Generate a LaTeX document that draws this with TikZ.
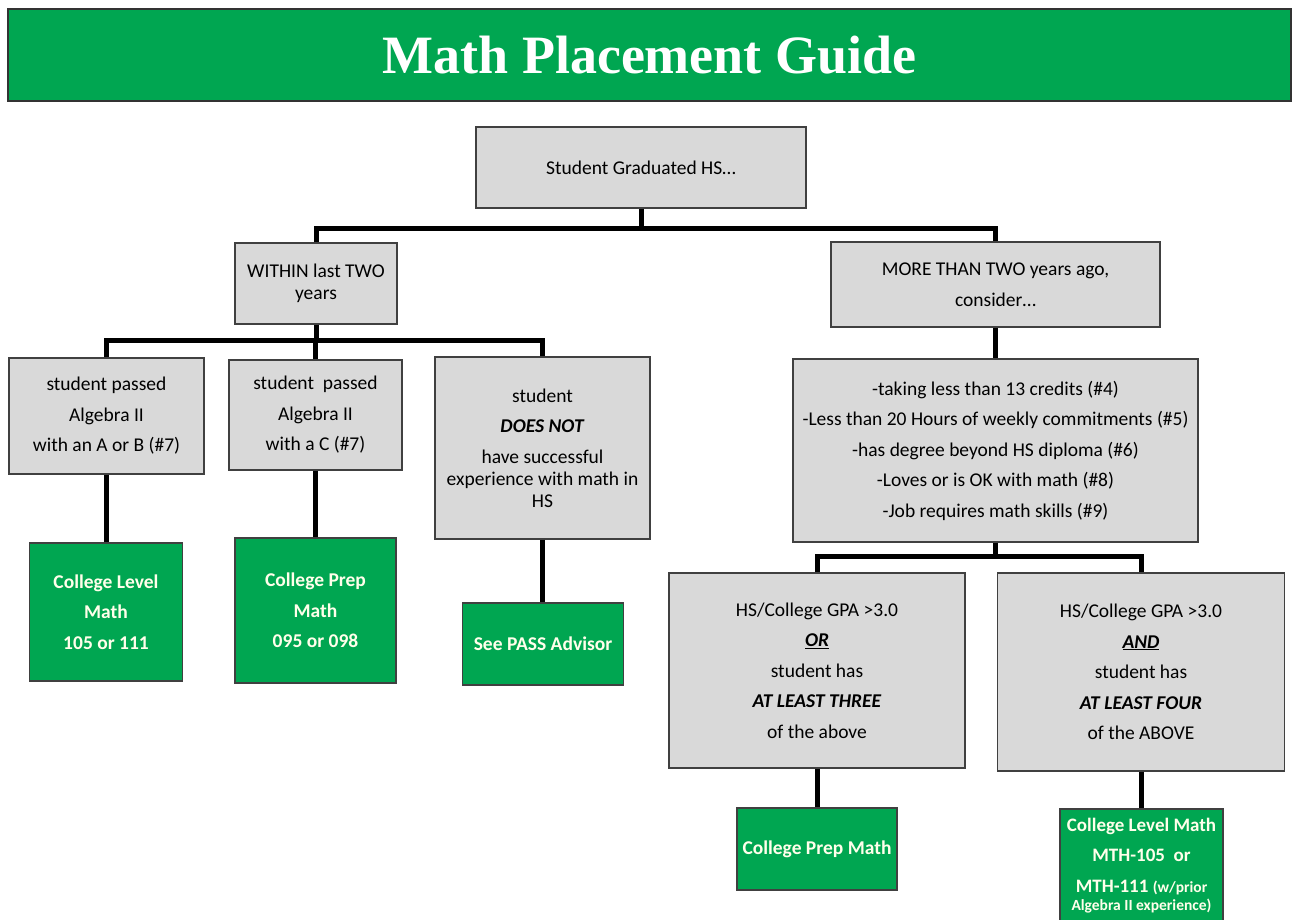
\documentclass[tikz,border=0pt]{standalone}
\usepackage{fontspec}
\setmainfont{Carlito}
\newfontfamily\titlefont{Liberation Serif}
\definecolor{hdrgreen}{HTML}{00A651}
\definecolor{boxgray}{HTML}{D9D9D9}
\definecolor{edgegray}{HTML}{404040}
\definecolor{paletext}{HTML}{FFFFEB}
\tikzset{
  gbox/.style={draw=edgegray, line width=1.4pt, fill=boxgray, align=center, inner sep=0pt,
    font=\fontsize{19.5}{30.5}\selectfont},
  rbox/.style={draw=edgegray, line width=1.4pt, fill=hdrgreen, text=paletext, align=center, inner sep=0pt,
    font=\fontsize{19.5}{30.5}\selectfont\bfseries},
  hdrbox/.style={draw=black!80, line width=2pt, fill=hdrgreen, text=white, inner sep=0pt,
    font=\titlefont\bfseries\fontsize{54}{60}\selectfont},
  link/.style={line width=5pt, draw=black}
}
\begin{document}
\begin{tikzpicture}[x=1pt,y=-1pt]
\useasboundingbox (0,0) rectangle (1292,919);
% header
\node[hdrbox, minimum width=1283, minimum height=92] (hdr) at (649.5,55) {Math Placement Guide};
% gray decision boxes
\node[gbox, minimum width=330, minimum height=81] (stud) at (641,167.5) {Student Graduated HS…};
\node[gbox, minimum width=162, minimum height=81] (within) at (316,283.5) {WITHIN last TWO\\[-8.5pt]years};
\node[gbox, minimum width=329, minimum height=85] (more) at (995.5,284.5) {MORE THAN TWO years ago,\\consider…};
\node[gbox, minimum width=195, minimum height=116] (a) at (106.5,416) {student passed\\Algebra II\\with an A or B (\#7)};
\node[gbox, minimum width=173, minimum height=110] (b) at (315.5,415) {student\ \ passed\\Algebra II\\with a C (\#7)};
\node[gbox, minimum width=215, minimum height=182] (c) at (542.5,448) {student\\\textbf{\textit{DOES NOT}}\\have successful\\[-8.5pt]experience with math in\\[-8.5pt]HS};
\node[gbox, minimum width=405, minimum height=183] (crit) at (995.5,450.5) {-taking less than 13 credits (\#4)\\-Less than 20 Hours of weekly commitments (\#5)\\-has degree beyond HS diploma (\#6)\\-Loves or is OK with math (\#8)\\-Job requires math skills (\#9)};
\node[gbox, minimum width=296, minimum height=195] (orb) at (817,670.5) {HS/College GPA >3.0\\\underline{\textbf{\textit{OR}}}\\student has\\\textbf{\textit{AT LEAST THREE}}\\of the above};
\node[gbox, minimum width=287.5, minimum height=198] (andb) at (1141,672) {HS/College GPA >3.0\\\underline{\textbf{\textit{AND}}}\\student has\\\textbf{\textit{AT LEAST FOUR}}\\of the ABOVE};
% green result boxes
\node[rbox, minimum width=152.5, minimum height=138] (g1) at (106,612) {College Level\\Math\\105 or 111};
\node[rbox, minimum width=161, minimum height=145] (g2) at (315.5,610.5) {College Prep\\Math\\095 or 098};
\node[rbox, minimum width=160.5, minimum height=82] (g3) at (543,644) {See PASS Advisor};
\node[rbox, minimum width=160, minimum height=82] (g4) at (817,849) {College Prep Math};
\node[rbox, minimum width=163, minimum height=113, font=\fontsize{19}{30.5}\selectfont\bfseries] (g5) at (1141.5,865.5)
  {College Level Math\\MTH-105\ \ or\\MTH-111 {\fontsize{15.5}{18}\selectfont(w/prior}\\[-12.5pt]{\fontsize{15.5}{18}\selectfont Algebra II experience)}};
% connectors
\draw[link] (stud.south) -- ++(0,19.5) coordinate (j1);
\draw[link] (within.north) |- (j1) -| (more.north);
\draw[link] (within.south) -- ++(0,16) coordinate (j2);
\draw[link] (a.north) |- (j2) -| (c.north);
\draw[link] (b.north) -- (b.north |- j2);
\draw[link] (a.south) -- (a.south |- g1.north);
\draw[link] (b.south) -- (b.south |- g2.north);
\draw[link] (c.south) -- (c.south |- g3.north);
\draw[link] (more.south) -- (more.south |- crit.north);
\draw[link] (crit.south) -- ++(0,14) coordinate (j3);
\draw[link] (orb.north) |- (j3) -| (andb.north);
\draw[link] (orb.south) -- (orb.south |- g4.north);
\draw[link] (andb.south) -- (andb.south |- g5.north);
\end{tikzpicture}
\end{document}
